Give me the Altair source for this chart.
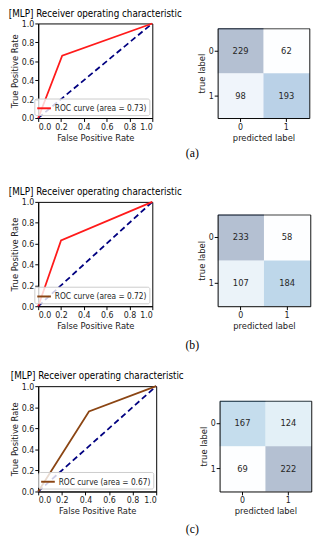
import altair as alt
import pandas as pd
import numpy as np

# ---------------- data ----------------
title_text = "[MLP] Receiver operating characteristic"
captions = ["(a)", "(b)", "(c)"]
roc_fpr = [[0.0, 0.21, 1.0], [0.0, 0.20, 1.0], [0.0, 0.43, 1.0]]
roc_tpr = [[0.0, 0.66, 1.0], [0.0, 0.63, 1.0], [0.0, 0.76, 1.0]]
roc_area = [0.73, 0.72, 0.67]
diag = [0.0, 1.0]
ticks = [0.0, 0.2, 0.4, 0.6, 0.8, 1.0]
class_labels = ["0", "1"]
cm_values = [
    [[229, 62], [98, 193]],
    [[233, 58], [107, 184]],
    [[167, 124], [69, 222]],
]

# ---------------- styles ----------------
FONT = "DejaVu Sans Condensed, Liberation Sans Narrow, Open Sans, sans-serif"
SERIF = "Liberation Serif, DejaVu Serif, serif"
line_colors = ["#ff1a1a", "#ff1a1a", "#8b4513"]
legend_colors = ["#ff1a1a", "#8b4513", "#8b4513"]
roc_sizes = [(117, 97), (117, 107), (121, 108)]
cm_widths = [94, 95, 94]
cm_top_gap = [5, 13, 15]          # cells start this far below the ROC plot top
caption_heights = [45, 41, 22]
caption_dy = [-11.5, -5.5, 3]
blues = ["#f7fbff", "#deebf7", "#c6dbef", "#9ecae1", "#6baed6",
         "#4292c6", "#2171b5", "#08519c", "#08306b"]
TITLE_SIZE = 10


def roc_chart(i):
    lab = f"ROC curve (area = {roc_area[i]:.2f})"
    df = pd.DataFrame({"fpr": roc_fpr[i], "tpr": roc_tpr[i], "label": lab})
    dd = pd.DataFrame({"fpr": diag, "tpr": diag})
    sc = alt.Scale(domain=[0, 1], nice=False, zero=False)
    x = alt.X("fpr:Q", scale=sc,
              axis=alt.Axis(values=ticks, format=".1f", title="False Positive Rate"))
    y = alt.Y("tpr:Q", scale=sc,
              axis=alt.Axis(values=ticks, format=".1f", title="True Positive Rate"))
    diag_layer = alt.Chart(dd).mark_line(color="#000080", strokeDash=[6, 3.5],
                                         strokeWidth=1.8).encode(x=x, y=y)
    curve = alt.Chart(df).mark_line(color=line_colors[i], strokeWidth=1.8).encode(x=x, y=y)
    legend_layer = alt.Chart(df).mark_line(opacity=0, strokeWidth=2).encode(
        x=x, y=y,
        color=alt.Color("label:N",
                        scale=alt.Scale(domain=[lab], range=[legend_colors[i]]),
                        legend=alt.Legend(title=None, orient="bottom-right", offset=3,
                                          padding=2, fillColor="rgba(255,255,255,0.8)",
                                          strokeColor="#cccccc", cornerRadius=2,
                                          symbolType="stroke", symbolSize=196,
                                          symbolStrokeWidth=2, symbolOpacity=1,
                                          labelOffset=3,
                                          labelFont=FONT, labelFontSize=8.5,
                                          labelColor="#222222", labelLimit=300)))
    w, h = roc_sizes[i]
    return alt.layer(diag_layer, curve, legend_layer).properties(
        width=w, height=h,
        title=alt.TitleParams(title_text, font=FONT, fontSize=TITLE_SIZE,
                              fontWeight="normal", color="black", anchor="middle",
                              frame="group", offset=1))


def cm_chart(i):
    vals = cm_values[i]
    rows = []
    for r in range(2):
        for c in range(2):
            rows.append({"true": class_labels[r], "pred": class_labels[c],
                         "count": vals[r][c]})
    df = pd.DataFrame(rows)
    df["t"] = (df["count"] - df["count"].min()) / (df["count"].max() - df["count"].min())
    h = roc_sizes[i][1]
    gap = cm_top_gap[i]
    xs = alt.Scale(domain=class_labels, paddingInner=0, paddingOuter=0)
    ys = alt.Scale(domain=class_labels, paddingInner=0, paddingOuter=0, range=[gap, h])
    rect = alt.Chart(df).mark_rect(opacity=0.3).encode(
        x=alt.X("pred:O", scale=xs, axis=alt.Axis(title="predicted label", labelAngle=0)),
        y=alt.Y("true:O", scale=ys, axis=alt.Axis(title="true label")),
        color=alt.Color("t:Q", scale=alt.Scale(domain=list(np.linspace(0, 1, 9)),
                                               range=blues), legend=None))
    frame_axis = dict(labels=False, ticks=False, domain=True, title=None, grid=False)
    text = alt.Chart(df).mark_text(font=FONT, fontSize=9.5, color="#262626").encode(
        x=alt.X("pred:O", scale=xs, axis=alt.Axis(orient="top", offset=-gap, **frame_axis)),
        y=alt.Y("true:O", scale=ys, axis=alt.Axis(orient="right", **frame_axis)),
        text="count:Q")
    return alt.layer(rect, text).resolve_axis(x="independent", y="independent").properties(
        width=cm_widths[i], height=h, view=alt.ViewBackground(strokeWidth=0))


def caption_chart(i):
    df = pd.DataFrame({"cap": [captions[i]]})
    return alt.Chart(df).mark_text(font=SERIF, fontSize=12, color="black",
                                   baseline="middle", dx=13, dy=caption_dy[i]).encode(
        text="cap:N"
    ).properties(width=290, height=caption_heights[i],
                 view=alt.ViewBackground(strokeWidth=0))


items = []
for i in range(3):
    row = alt.concat(roc_chart(i), cm_chart(i), columns=2, align="none",
                     spacing=14).resolve_scale(color="independent")
    items.append(row)
    items.append(caption_chart(i))

chart = alt.vconcat(*items, spacing=0).resolve_scale(color="independent").properties(
    padding={"left": 0, "top": -7, "right": 0, "bottom": 0}
).configure_view(stroke="black", strokeWidth=1).configure_axis(
    domainColor="black", tickColor="black", tickSize=3.5, labelColor="#222222",
    titleColor="#222222", labelFont=FONT, titleFont=FONT, labelFontSize=9,
    titleFontSize=9.5, titleFontWeight="normal", grid=False, labelPadding=1,
    titlePadding=1.5
)

chart.save("out.html", embed_options={"renderer": "svg", "actions": False})
